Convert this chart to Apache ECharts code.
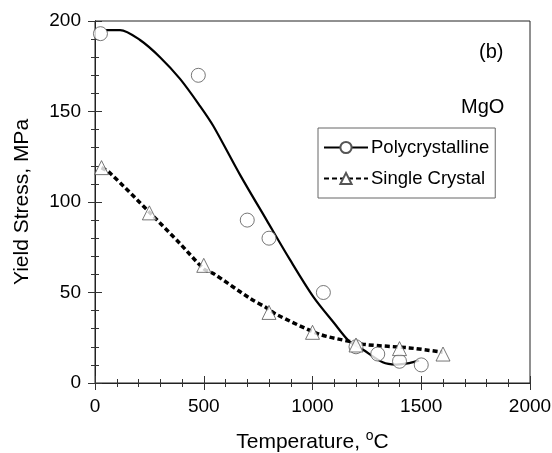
<!DOCTYPE html>
<html>
<head>
<meta charset="utf-8">
<script src="https://cdn.jsdelivr.net/npm/echarts@6/dist/echarts.min.js"></script>
<style>
html,body{margin:0;padding:0;background:#fff;}
#chart{width:552px;height:453px;}
</style>
</head>
<body>
<div id="chart"></div>
<script>
// Measured data points
var polyTemp = [25, 475, 700, 800, 1050, 1200, 1300, 1400, 1500];
var polyStress = [193, 170, 90, 80, 50, 20, 16, 12, 10];
var singleTemp = [30, 250, 500, 800, 1000, 1200, 1400, 1600];
var singleStress = [119, 94, 65, 39, 28, 21, 19, 16];

// Fitted curves
var polyFitT = [50, 115, 207, 299, 391, 483, 544, 667, 789, 897, 1004, 1100, 1169, 1231, 1323, 1384, 1445, 1490];
var polyFitS = [195, 195, 189.5, 180, 168, 153, 142, 115, 90, 68, 47.6, 33, 23, 18.5, 11.4, 10.2, 11, 12.5];
var singleFitT = [30, 69, 253, 391, 501, 544, 713, 789, 832, 1031, 1169, 1246, 1445, 1598];
var singleFitS = [119, 116, 94, 77, 63, 60.5, 46.7, 41.5, 38, 27, 23, 21.2, 19.4, 17];

// Axis ticks
var xMin = 0, xMax = 2000, xStep = 500;
var yMin = 0, yMax = 200, yStep = 50;

function pairs(a, b) { return a.map(function (v, i) { return [v, b[i]]; }); }

var FONT = 'Liberation Sans, Arial, Helvetica, sans-serif';
var chart = echarts.init(document.getElementById('chart'), null, {renderer: 'canvas'});

function axis(extra) {
  var base = {
    type: 'value',
    axisLine: {show: true, lineStyle: {color: '#222', width: 1}},
    axisTick: {show: true, inside: true, length: 7, lineStyle: {color: '#333', width: 1}},
    minorTick: {show: true, splitNumber: 5, length: 4, lineStyle: {color: '#333', width: 1}},
    splitLine: {show: false}
  };
  for (var k in extra) base[k] = extra[k];
  return base;
}
var hiddenLabel = {show: true, color: 'rgba(0,0,0,0)', fontSize: 10};

var option = {
  backgroundColor: '#fff',
  animation: false,
  textStyle: {fontFamily: FONT},
  grid: {left: 95, right: 22, top: 21, bottom: 70, containLabel: false, outerBoundsMode: 'none',
    show: true, borderColor: '#222', borderWidth: 1, backgroundColor: 'rgba(0,0,0,0)'},
  xAxis: [
    axis({
      min: xMin, max: xMax, interval: xStep, position: 'bottom',
      name: 'Temperature, {sup|o}C', nameLocation: 'middle', nameGap: 46,
      nameTextStyle: {fontSize: 21, color: '#000', fontFamily: FONT,
        rich: {sup: {fontSize: 14, color: '#000', fontFamily: FONT, padding: [0, 0, 12, 0]}}},
      axisLabel: {fontSize: 19, color: '#000', margin: 14, fontFamily: FONT,
        formatter: function (v) { return String(v); }}
    }),
    axis({min: xMin, max: xMax, interval: xStep, position: 'top', axisLabel: hiddenLabel})
  ],
  yAxis: [
    axis({
      min: yMin, max: yMax, interval: yStep, position: 'left',
      name: 'Yield Stress, MPa', nameLocation: 'middle', nameGap: 62,
      nameTextStyle: {fontSize: 21, color: '#000', fontFamily: FONT},
      axisLabel: {fontSize: 19, color: '#000', margin: 14, fontFamily: FONT,
        formatter: function (v) { return String(v); }}
    }),
    axis({min: yMin, max: yMax, interval: yStep, position: 'right', axisLabel: hiddenLabel})
  ],
  legend: {
    orient: 'vertical', left: 318, top: 128,
    padding: [10, 6, 10, 5],
    itemWidth: 44, itemHeight: 14, itemGap: 12,
    borderColor: '#666', borderWidth: 1,
    textStyle: {fontSize: 18.5, color: '#000', fontFamily: FONT, padding: [0, 0, 0, -2]},
    data: ['Polycrystalline', 'Single Crystal']
  },
  graphic: [
    {type: 'text', left: 479, top: 42, style: {text: '(b)', fontSize: 20, fill: '#000', fontFamily: FONT}},
    {type: 'text', left: 461, top: 97, style: {text: 'MgO', fontSize: 20, fill: '#000', fontFamily: FONT}}
  ],
  series: [
    {
      name: 'Polycrystalline', type: 'line', smooth: 0.3,
      data: pairs(polyFitT, polyFitS),
      symbol: 'circle', symbolSize: 13, showSymbol: false,
      lineStyle: {color: '#000', width: 2.2},
      itemStyle: {color: '#fff', borderColor: '#555', borderWidth: 1},
      z: 2
    },
    {
      name: 'Single Crystal', type: 'line', smooth: 0.3,
      data: pairs(singleFitT, singleFitS),
      symbol: 'triangle', symbolSize: 14, showSymbol: false,
      lineStyle: {color: '#000', width: 3.5, type: [5, 3]},
      itemStyle: {color: '#fff', borderColor: '#555', borderWidth: 1},
      z: 2
    },
    {
      name: 'polyPts', type: 'scatter', data: pairs(polyTemp, polyStress),
      symbol: 'circle', symbolSize: 14,
      itemStyle: {color: '#fff', borderColor: '#555', borderWidth: 1},
      z: 4
    },
    {
      name: 'singlePts', type: 'scatter', data: pairs(singleTemp, singleStress),
      symbol: 'triangle', symbolSize: 14,
      itemStyle: {color: '#fff', borderColor: '#555', borderWidth: 1},
      z: 5
    }
  ]
};
chart.setOption(option);
</script>
</body>
</html>
